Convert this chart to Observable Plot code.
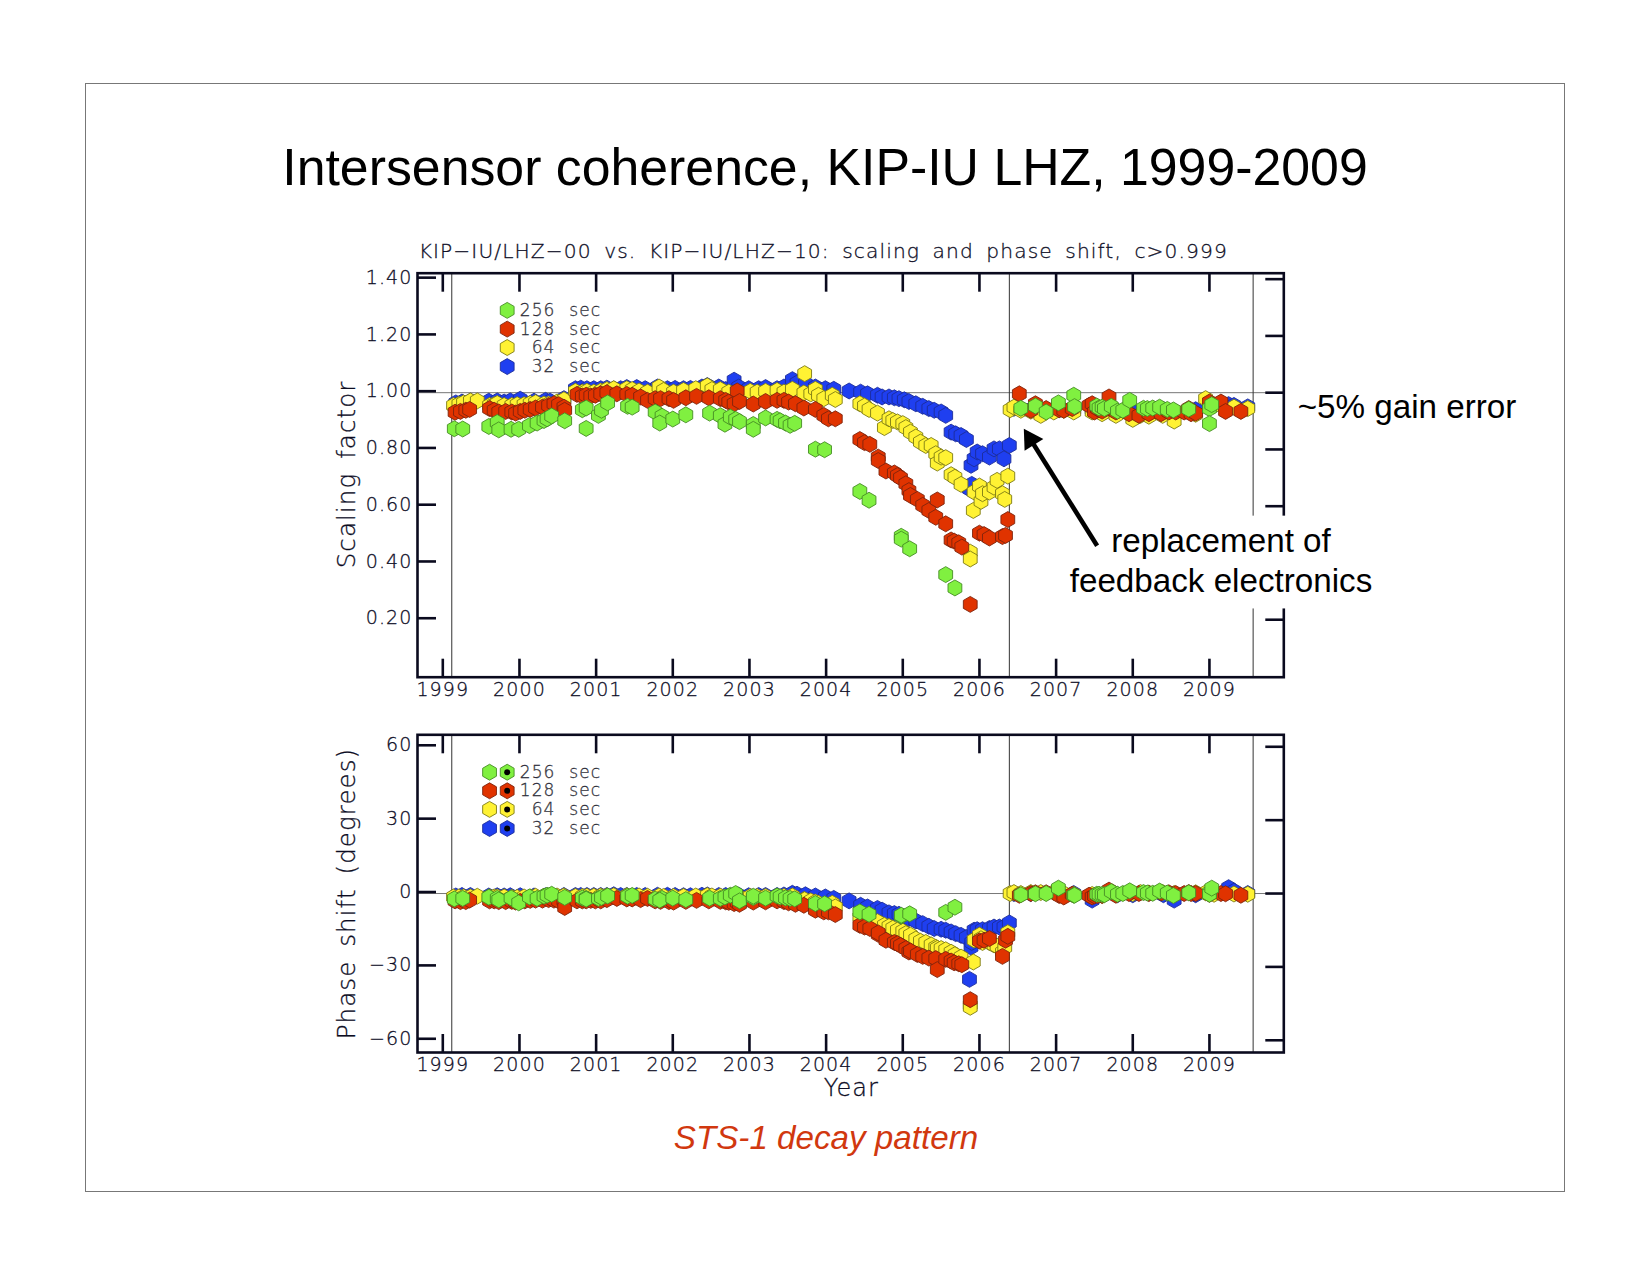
<!DOCTYPE html>
<html>
<head>
<meta charset="utf-8">
<script src="https://cdn.jsdelivr.net/npm/d3@7"></script>
<script src="https://cdn.jsdelivr.net/npm/@observablehq/plot@0.6"></script>
<style>
html,body{margin:0;padding:0;background:#fff;}
#page{position:relative;width:1651px;height:1275px;overflow:hidden;background:#fff;}
#sheet{position:absolute;left:85px;top:83px;width:1478px;height:1107px;border:1.3px solid #777;}
.h{position:absolute;font-family:"Liberation Sans",Arial,sans-serif;white-space:nowrap;color:#000;}
#page svg{position:absolute;left:0;background:transparent;}
#page svg text{stroke:#14142a;stroke-width:.3px;}
</style>
</head>
<body>
<div id="page">
<div id="sheet"></div>
</div>
<script>
// ---- values ----
const years256 = [1999.15,1999.26,
 1999.60,1999.71,1999.73,1999.89,1999.99,2000.13,2000.23,2000.32,2000.36,2000.42,2000.59,
 2000.82,2000.87,2000.87,2001.03,2001.07,2001.15,2001.41,2001.47,2001.77,2001.86,2001.83,2002.00,2002.17,
 2002.48,2002.62,2002.68,2002.75,2002.82,2002.87,2003.05,2003.05,2003.21,2003.36,2003.40,2003.47,2003.53,2003.59,2003.86,2003.98,
 2004.44,2004.56,2004.98,2004.98,2005.09,2005.56,2005.68,
 2006.54,2006.73,2006.87,2007.03,2007.23,2007.24,2007.53,2007.56,2007.60,2007.63,2007.72,2007.80,2007.87,2007.96,2008.14,2008.19,2008.26,2008.35,2008.45,2008.53,2008.73,2009.00,2009.00,2009.03];
const scale256 = [.873,.872,
 .881,.895,.869,.871,.871,.884,.893,.902,.908,.918,.901,
 .940,.946,.874,.920,.938,.964,.952,.949,.932,.917,.893,.907,.922,
 .928,.919,.889,.914,.906,.898,.888,.871,.911,.906,.901,.893,.885,.892,.801,.799,
 .652,.621,.494,.484,.450,.359,.312,
 .945,.953,.932,.964,.991,.951,.953,.946,.949,.944,.952,.935,.938,.973,.945,.944,.946,.949,.941,.939,.942,.944,.891,.958];
const phase256 = [-2.2,-2.0,
 -1.5,-2.0,-2.6,-1.8,-3.8,-1.4,-2.0,-1.1,-.7,-.3,-1.6,
 -1.8,-2.0,-2.3,-2.0,-1.6,-1.0,-1.1,-.8,-2.3,-2.0,-2.7,-1.9,-2.5,
 -1.9,-2.0,-1.4,-.7,0,-3.0,-1.6,-1.1,-1.9,-1.0,-1.4,-1.8,-2.0,-2.2,-4.1,-4.2,
 -7.5,-8.5,-9.2,-8.9,-8.3,-7.7,-5.6,
 -.5,-.1,0,2.2,-.7,-.7,-.3,-.3,-.4,-.5,.8,-.3,0,1.1,.4,.2,.1,1.0,.2,-.8,.3,.4,-.3,2.2];

const years128 = [1999.16,1999.23,1999.30,1999.35,
 1999.61,1999.67,1999.73,1999.82,1999.90,1999.95,2000.01,2000.07,2000.14,2000.21,2000.30,2000.38,2000.45,2000.51,2000.58,2000.59,
 2000.75,2000.82,2000.87,2000.93,2000.99,2001.06,2001.14,2001.27,2001.40,2001.47,2001.58,2001.67,2001.77,2001.84,2001.95,2002.01,2002.17,2002.31,2002.47,2002.62,2002.69,2002.73,2002.80,2002.84,2002.87,2003.05,2003.21,2003.36,2003.45,2003.51,2003.60,2003.71,2003.86,2003.97,2004.03,2004.12,
 2004.44,2004.50,2004.57,2004.68,2004.68,2004.78,2004.89,2004.93,2004.97,2005.04,2005.08,2005.10,2005.19,2005.26,2005.34,2005.43,2005.45,2005.56,2005.63,2005.67,2005.73,2005.77,2005.88,2006.00,2006.06,2006.13,2006.30,2006.34,2006.37,
 2006.52,2006.67,2006.73,2006.87,2007.04,2007.10,2007.21,2007.43,2007.47,2007.50,2007.54,2007.60,2007.69,2007.78,2007.95,2008.08,2008.21,2008.37,2008.47,2008.56,2008.67,2008.73,2008.76,2008.82,2009.0,2009.15,2009.21,2009.41];
const scale128 = [.931,.934,.938,.941,
 .944,.938,.932,.934,.932,.928,.934,.938,.941,.946,.949,.955,.961,.958,.949,.938,
 .994,.988,.991,.988,.991,.996,1.0,.996,.994,.991,.985,.973,.979,.979,.979,.973,.982,.987,.982,.979,.973,.967,.961,1.006,.969,.96,.969,.973,.973,.967,.961,.946,.941,.92,.908,.908,
 .835,.824,.818,.773,.761,.724,.717,.708,.700,.679,.655,.638,.624,.603,.585,.561,.622,.538,.481,.477,.471,.456,.254,.505,.500,.488,.493,.497,.553,
 .996,.938,.961,.944,.94,.938,.944,.955,.961,.932,.944,.935,.985,.932,.926,.92,.926,.926,.932,.932,.932,.944,.926,.928,.967,.967,.934,.934];
const phase128 = [-3,-3.3,-3.3,-2.7,
 -3,-3,-3.3,-3.3,-3.2,-3.5,-3.2,-3,-2.8,-2.7,-2.7,-2.5,-2.7,-3,-3,-5.7,
 -3,-3,-3,-2.8,-3,-3,-2.5,-2,-2.2,-2.2,-2.5,-2,-3,-3.2,-3.3,-3.5,-3.2,-2.8,-3,-3.2,-3.4,-3.6,-4.1,-3.6,-4.4,-3.5,-3.4,-3,-3.3,-3.8,-4.4,-4.8,-6.8,-7.5,-7.5,-8.6,
 -13,-13.7,-14.3,-16.7,-16.1,-19.1,-20,-20.5,-21.2,-22.5,-23.9,-23.5,-24.9,-25.7,-26.4,-26.6,-31.1,-26.9,-27.6,-28.3,-28.7,-29.1,-43.4,-19.4,-19.1,-18.4,-25.7,-19.1,-17.5,
 -.7,0,.3,.3,-.8,-1.4,-.3,-.7,-1.4,-1,-.8,-.8,1.4,-.7,0,0,0,.3,.3,0,0,.4,0,0,-.3,0,-.1,-.7];

const years64 = [1999.14,1999.21,1999.27,1999.36,1999.45,
 1999.61,1999.67,1999.71,1999.80,1999.90,1999.97,2000.06,2000.14,2000.21,2000.32,2000.38,2000.49,2000.58,
 2000.73,2000.82,2000.88,2000.97,2001.06,2001.14,2001.23,2001.40,2001.47,2001.56,2001.67,2001.82,2001.88,2002.01,2002.14,2002.30,2002.45,2002.51,2002.62,2002.73,2002.86,2003.01,2003.10,2003.21,2003.36,2003.45,2003.56,2003.71,2003.72,2003.80,2003.86,2003.90,2003.97,2004.08,2004.12,
 2004.44,2004.50,2004.56,2004.67,2004.76,2004.82,2004.87,2004.93,2005.0,2005.04,2005.10,2005.17,2005.23,2005.30,2005.37,2005.43,2005.45,2005.50,2005.56,2005.63,2005.68,2005.76,2005.88,2005.88,2005.92,2005.93,2006.0,2006.02,2006.04,2006.13,2006.19,2006.23,2006.30,2006.33,2006.37,
 2006.40,2006.45,2006.54,2006.67,2006.80,2006.97,2007.10,2007.23,2007.47,2007.60,2007.78,2008.00,2008.10,2008.21,2008.39,2008.54,2008.82,2008.95,2009.06,2009.32,2009.50];
const scale64 = [.955,.959,.964,.971,.971,
 .955,.958,.962,.955,.955,.958,.958,.962,.965,.96,.96,.967,.975,
 1.005,1.002,1.005,1.002,1.006,1.011,1.014,1.014,1.011,1.006,1.002,1.02,1.008,1.002,1.008,1.014,1.024,1.011,1.011,1.002,.999,1.005,1.002,1.005,1.008,1.002,1.012,.999,1.067,.996,1.012,.991,.979,.991,.976,
 .961,.953,.941,.928,.877,.908,.902,.897,.891,.877,.861,.844,.826,.814,.814,.785,.752,.773,.771,.711,.702,.677,.438,.414,.585,.65,.671,.617,.644,.65,.667,.691,.644,.624,.706,
 .94,.949,.938,.935,.92,.932,.938,.932,.932,.926,.92,.906,.92,.917,.92,.9,.924,.979,.955,.949,.944];
const phase64 = [-1.4,-1.4,-1.4,-1.4,-1.1,
 -1.4,-1.4,-1.4,-1.4,-1.6,-1.6,-1.4,-1.4,-1.1,-1.1,-1.1,-1,-1,
 -1.2,-1.2,-1.1,-1.1,-1,-1,-.9,-.9,-1,-1,-1.1,-1,-1.2,-1.2,-1.2,-1,-.8,-1,-1.1,-1.2,-1.3,-1.2,-1.2,-1.2,-1.1,-1.2,-1,-2.5,-2.5,-3,-3.5,-4,-4.8,-4,-5.5,
 -9.6,-10.4,-11.1,-11.5,-13,-13.5,-14.2,-15,-15.4,-16.4,-17,-18.6,-19.5,-20,-21,-22,-22.4,-22.5,-23,-24,-25,-26,-45.6,-46.5,-28,-19,-17,-18.5,-20,-20,-21,-21.5,-24,-22,-16,
 0,.4,0,.4,.4,.5,0,-.3,-.4,-.8,-.4,0,.4,.2,.4,0,.3,.3,-.3,-.2,-.3];

const years32 = [1999.17,1999.25,1999.36,
 1999.60,1999.71,1999.80,1999.88,2000.01,2000.19,2000.34,2000.40,2000.58,
 2000.73,2000.80,2000.88,2000.97,2001.06,2001.14,2001.23,2001.32,2001.40,2001.53,2001.64,2001.80,2001.93,2002.03,2002.14,2002.23,2002.38,2002.45,2002.60,2002.69,2002.80,2002.86,2002.99,2003.12,2003.21,2003.36,2003.45,2003.56,2003.62,2003.73,2003.86,2003.99,2004.10,
 2004.30,2004.45,2004.54,2004.67,2004.73,2004.82,2004.89,2004.95,2005.02,2005.08,2005.17,2005.26,2005.34,2005.41,2005.50,2005.56,2005.63,2005.69,2005.76,2005.83,2005.87,2005.89,2005.90,2005.93,2005.97,2006.04,2006.13,2006.19,2006.26,2006.32,2006.39,
 2006.45,2006.67,2007.04,2007.23,2007.47,2007.8,2008.0,2008.4,2008.54,2008.82,2009.25,2009.32,2009.5];
const scale32 = [.964,.967,.97,
 .97,.971,.967,.971,.977,.97,.973,.97,.979,
 1.014,1.016,1.014,1.014,1.014,1.016,1.013,1.014,1.018,1.018,1.014,1.02,1.014,1.015,1.014,1.015,1.02,1.025,1.02,1.011,1.044,1.02,1.014,1.014,1.018,1.014,1.02,1.046,1.034,1.032,1.02,1.014,1.012,
 1.006,1.002,.996,.991,.985,.985,.982,.979,.975,.969,.961,.952,.944,.938,.932,.92,.861,.855,.849,.835,.661,.744,.677,.767,.791,.785,.773,.802,.802,.767,.814,
 .945,.94,.94,.94,.94,.935,.935,.94,.935,.94,.958,.955,.95];
const phase32 = [-1,-.8,-.8,
 -1,-.9,-1,-.9,-.9,-1,-.9,-.9,-.8,
 -.8,-.8,-.8,-.8,-.8,-.8,-.5,-.8,-.8,-.8,-.8,-.7,-.7,-.8,-.9,-.9,-.7,-.6,-.8,-.8,-.8,-.7,-.9,-.8,-.8,-.8,-.6,.1,-.3,-.5,-1,-1.4,-2,
 -3,-4.8,-5.5,-6.1,-6.8,-7.9,-8.2,-8.5,-9.6,-10.2,-11.2,-12.3,-13.4,-14.3,-14.6,-15,-15.7,-16.4,-17.1,-18,-35.1,-21.9,-20,-15,-14.8,-14.8,-14.3,-13.7,-13.7,-13.7,-12,
 0,0,0,0,-2.7,-.5,-.5,-.5,-2.7,-.5,2.4,1,0];

const periods = ["32","64","128","256"];
const fills = {"32":"#1f3ff0","64":"#fff233","128":"#e03300","256":"#80f040"};
const strokes = {"32":"#1c2c9a","64":"#7d7a14","128":"#7e240c","256":"#458c24"};
const tickYears = [1999,2000,2001,2002,2003,2004,2005,2006,2007,2008,2009];
const scaleTicks = [0.2,0.4,0.6,0.8,1.0,1.2,1.4];
const phaseTicks = [-60,-30,0,30,60];
const eventYears = [1999.117,2006.39,2009.57];
const legendOrder = ["256","128","64","32"];
const legendScale = [1.29,1.224,1.159,1.092];
const legendPhase = [49.6,42,34.4,26.6];
// -------------------------------------

const rows = (t,s,p,key)=>t.map((year,i)=>({year,scale:s[i],phase:p[i],key}));
const series = {
  "32":rows(years32,scale32,phase32,"32"),
  "64":rows(years64,scale64,phase64,"64"),
  "128":rows(years128,scale128,phase128,"128"),
  "256":rows(years256,scale256,phase256,"256")
};
const ink = "#0a0a1e";
const axisWidth = 2.6;
const hexR = 6.9;
const xDomain = [1998.67,2009.97];
const baseStyle = {fontFamily:"'DejaVu Sans',sans-serif",fontWeight:"200",fontSize:"19px",letterSpacing:"1.1px",wordSpacing:"5px",background:"transparent",color:ink,overflow:"visible"};

function frameMarks(yTicks,fmt){
  return [
    Plot.ruleX(eventYears,{stroke:"#333",strokeWidth:1}),
    Plot.frame({stroke:ink,strokeWidth:axisWidth}),
    Plot.axisX({anchor:"bottom",ticks:tickYears,tickSize:-18,tickPadding:23,tickFormat:d=>String(d),label:null,stroke:ink,strokeWidth:axisWidth,fontSize:19,fill:ink}),
    Plot.axisX({anchor:"top",ticks:tickYears,tickSize:-18,tickFormat:()=>"",label:null,stroke:ink,strokeWidth:axisWidth,fill:"none"}),
    Plot.axisY({anchor:"left",ticks:yTicks,tickSize:-19,tickPadding:24,tickFormat:fmt,label:null,stroke:ink,strokeWidth:axisWidth,fontSize:19,fill:ink,dy:-1.5}),
    Plot.axisY({anchor:"right",ticks:yTicks,tickSize:-19,tickFormat:()=>"",label:null,stroke:ink,strokeWidth:axisWidth,fill:"none"})
  ];
}
const dots = (key,y)=>Plot.dot(series[key],{x:"year",y,r:hexR,symbol:"hexagon",fill:fills[key],stroke:strokes[key],strokeWidth:0.9});
const pointMarks = y=>periods.map(k=>dots(k,y));
const legendRows = ys=>legendOrder.map((k,i)=>({k,y:ys[i],label:k}));

// top panel
const topPanel = Plot.plot({
  width:1651,height:700,
  marginLeft:417,marginRight:367.7,marginTop:272.7,marginBottom:23.3,
  x:{domain:xDomain,axis:null},
  y:{domain:[-0.0025,1.421],axis:null},
  style:baseStyle,
  marks:[
    Plot.ruleY([1],{stroke:"#777",strokeWidth:1}),
    ...frameMarks(scaleTicks,d3.format(".2f")),
    ...pointMarks("scale"),
    Plot.dot(legendRows(legendScale),{x:()=>1999.84,y:"y",r:hexR,symbol:"hexagon",fill:d=>fills[d.k],stroke:d=>strokes[d.k],strokeWidth:0.9}),
    Plot.text(legendRows(legendScale),{x:()=>2000.47,y:"y",text:"label",textAnchor:"end",fontSize:17,fill:"#555"}),
    Plot.text(legendRows(legendScale),{x:()=>2000.65,y:"y",text:()=>"sec",textAnchor:"start",fontSize:17,fill:"#555"}),
    Plot.text(["KIP−IU/LHZ−00 vs. KIP−IU/LHZ−10: scaling and phase shift, c>0.999"],{x:()=>1998.685,y:()=>1.474,textAnchor:"start",lineAnchor:"bottom",fontSize:20.2,fill:ink}),
    Plot.text(["Scaling factor"],{x:()=>1997.861,y:()=>0.712,rotate:-90,lineAnchor:"bottom",fontSize:24.5,fill:ink}),
    // white patch behind the annotation interrupts the frame
    Plot.rect([0],{x1:()=>2009.45,x2:()=>2010.2,y1:()=>0.238,y2:()=>0.565,fill:"#fff"}),
    // annotation arrow
    Plot.link([0],{x1:()=>2007.535,y1:()=>0.461,x2:()=>2006.667,y2:()=>0.835,stroke:"#000",strokeWidth:4.6}),
    Plot.dot([0],{x:()=>2006.667,y:()=>0.835,r:8.2,symbol:"triangle",rotate:-32,fill:"#000"})
  ]
});
topPanel.style.top="0px";
document.getElementById("page").appendChild(topPanel);

// bottom panel
const bottomPanel = Plot.plot({
  width:1651,height:410,
  marginLeft:417,marginRight:367.7,marginTop:34.3,marginBottom:58,
  x:{domain:xDomain,axis:null},
  y:{domain:[-65,64.9],axis:null},
  style:baseStyle,
  marks:[
    Plot.ruleY([0],{stroke:"#777",strokeWidth:1}),
    ...frameMarks(phaseTicks,d=>d<0?"−"+(-d):String(d)),
    ...pointMarks("phase"),
    Plot.dot(legendRows(legendPhase),{x:()=>1999.61,y:"y",r:hexR,symbol:"hexagon",fill:d=>fills[d.k],stroke:d=>strokes[d.k],strokeWidth:0.9}),
    Plot.dot(legendRows(legendPhase),{x:()=>1999.84,y:"y",r:hexR,symbol:"hexagon",fill:d=>fills[d.k],stroke:d=>strokes[d.k],strokeWidth:0.9}),
    Plot.dot(legendRows(legendPhase),{x:()=>1999.84,y:"y",r:3,fill:"#000"}),
    Plot.text(legendRows(legendPhase),{x:()=>2000.47,y:"y",text:"label",textAnchor:"end",fontSize:17,fill:"#555"}),
    Plot.text(legendRows(legendPhase),{x:()=>2000.65,y:"y",text:()=>"sec",textAnchor:"start",fontSize:17,fill:"#555"}),
    Plot.text(["Phase shift (degrees)"],{x:()=>1997.861,y:()=>0,rotate:-90,lineAnchor:"bottom",fontSize:24.5,fill:ink}),
    Plot.text(["Year"],{x:()=>2004.33,y:()=>-82.8,lineAnchor:"bottom",fontSize:24,fill:ink})
  ]
});
bottomPanel.style.top="700px";
document.getElementById("page").appendChild(bottomPanel);

// slide text
const slideText = [
  {t:"Intersensor coherence, KIP-IU LHZ, 1999-2009",cx:825,base:184,size:51.8},
  {t:"~5% gain error",cx:1407,base:417.7,size:33.2},
  {t:"replacement of",cx:1221,base:552,size:33.2},
  {t:"feedback electronics",cx:1221,base:592,size:33.2},
  {t:"STS-1 decay pattern",cx:826,base:1149,size:33.2,color:"#d1380f",italic:true}
];
for(const s of slideText){
  const e=document.createElement("div");
  e.className="h";
  e.textContent=s.t;
  e.style.fontSize=s.size+"px";
  e.style.left=s.cx+"px";
  e.style.transform="translateX(-50%)";
  e.style.top=(s.base-s.size*0.905)+"px";
  e.style.lineHeight="normal";
  if(s.color)e.style.color=s.color;
  if(s.italic)e.style.fontStyle="italic";
  document.getElementById("page").appendChild(e);
}
</script>
</body>
</html>
